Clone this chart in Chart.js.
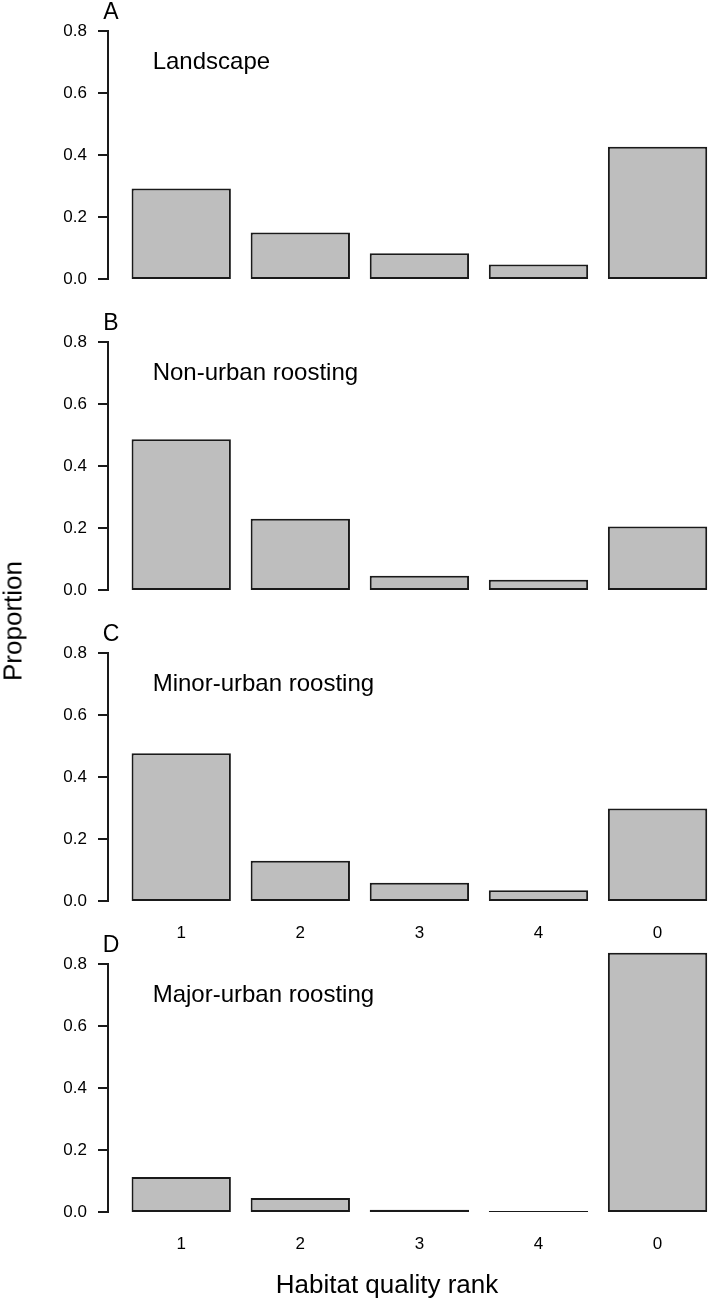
<!DOCTYPE html>
<html>
<head>
<meta charset="utf-8">
<script src="https://cdn.jsdelivr.net/npm/chart.js@4.4.0/dist/chart.umd.min.js"></script>
<style>
    body { margin: 0; width: 708px; height: 1299px; overflow: hidden; background: #fff; position: relative;
           font-family: "Liberation Sans", Arial, sans-serif; color: #000; }
    canvas { position: absolute; left: 0; }
    .ytitle { position: absolute; left: 13px; top: 621px; transform: translate(-50%, -50%) rotate(-90deg);
              font-size: 26px; white-space: nowrap; }
    .xtitle { position: absolute; left: 387px; top: 1284px; transform: translate(-50%, -50%);
              font-size: 26px; white-space: nowrap; }
</style>
</head>
<body>
<canvas id="panelA" width="729" height="311" style="top:0px"></canvas>
<canvas id="panelB" width="729" height="311" style="top:311px"></canvas>
<canvas id="panelC" width="729" height="360" style="top:622px"></canvas>
<canvas id="panelD" width="729" height="360" style="top:933px"></canvas>
<div class="ytitle">Proportion</div>
<div class="xtitle">Habitat quality rank</div>
<script>
// habitat quality ranks (x axis, in plotted order)
var categories = ['1', '2', '3', '4', '0'];
var yTicks = [0, 0.2, 0.4, 0.6, 0.8];

// proportions per rank
var landscape = [0.292, 0.150, 0.083, 0.047, 0.427];
var nonUrban = [0.486, 0.230, 0.046, 0.033, 0.205];
var minorUrban = [0.477, 0.130, 0.059, 0.035, 0.298];
var majorUrban = [0.113, 0.045, 0.007, 0.001, 0.836];

var FONT = '"Liberation Sans", Arial, sans-serif';

// panel letter + panel name, placed with the chart's own scales
var panelText = {
    id: 'panelText',
    afterDraw: function (chart) {
        var o = chart.options.plugins.panelText;
        var ctx = chart.ctx, xs = chart.scales.x, ys = chart.scales.y;
        ctx.save();
        ctx.fillStyle = '#000';
        ctx.font = '23px ' + FONT;
        ctx.textAlign = 'center';
        ctx.textBaseline = 'alphabetic';
        ctx.fillText(o.letter, chart.chartArea.left + 3, ys.getPixelForValue(0.8) - 12);
        ctx.font = '24px ' + FONT;
        ctx.textAlign = 'left';
        ctx.textBaseline = 'middle';
        ctx.fillText(o.name, xs.getPixelForValue(0.76), ys.getPixelForValue(0.7));
        ctx.restore();
    }
};

function makePanel(id, letter, name, values, showX) {
    var ctx = document.getElementById(id).getContext('2d');
    new Chart(ctx, {
        type: 'bar',
        data: {
            datasets: [{
                data: values.map(function (v, i) { return { x: i + 1, y: v }; }),
                yAxisID: 'yb',
                backgroundColor: '#bebebe',
                borderColor: '#1a1a1a',
                borderWidth: 2,
                borderSkipped: false,
                inflateAmount: 0,
                barPercentage: 1,
                categoryPercentage: 0.834,
                minBarLength: 1,
                clip: false
            }]
        },
        options: {
            responsive: false,
            animation: false,
            layout: { padding: { left: 0, right: 0, top: 31, bottom: showX ? 0 : 32 } },
            plugins: {
                legend: { display: false },
                tooltip: { enabled: false },
                panelText: { letter: letter, name: name }
            },
            scales: {
                x: {
                    type: 'linear',
                    display: showX,
                    offset: false,
                    min: 0.385,
                    max: 5.6,
                    afterBuildTicks: function (scale) {
                        scale.ticks = categories.map(function (c, i) { return { value: i + 1 }; });
                    },
                    afterFit: function (scale) { scale.height = showX ? 81 : 0; },
                    grid: { display: false, drawTicks: false },
                    border: { display: false },
                    ticks: {
                        padding: 22,
                        color: '#000',
                        font: { family: FONT, size: 17 },
                        callback: function (v, i) { return categories[i]; }
                    }
                },
                // visible R-style axis
                y: {
                    position: 'left',
                    min: 0,
                    max: 0.8,
                    afterBuildTicks: function (scale) {
                        scale.ticks = yTicks.map(function (v) { return { value: v }; });
                    },
                    afterFit: function (scale) { scale.width = 108; },
                    grid: { drawOnChartArea: false, drawTicks: true, tickLength: 10, color: '#1a1a1a', lineWidth: 2 },
                    border: { display: true, color: '#1a1a1a', width: 2 },
                    ticks: {
                        padding: 11,
                        color: '#000',
                        font: { family: FONT, size: 17 },
                        callback: function (v) { return v.toFixed(1); }
                    }
                },
                // same range, carries the bars so they sit right on zero
                yb: {
                    position: 'left',
                    display: false,
                    min: 0,
                    max: 0.8
                }
            }
        },
        plugins: [panelText]
    });
}

document.addEventListener('DOMContentLoaded', function () {
    makePanel('panelA', 'A', 'Landscape', landscape, false);
    makePanel('panelB', 'B', 'Non-urban roosting', nonUrban, false);
    makePanel('panelC', 'C', 'Minor-urban roosting', minorUrban, true);
    makePanel('panelD', 'D', 'Major-urban roosting', majorUrban, true);
});
</script>
</body>
</html>
